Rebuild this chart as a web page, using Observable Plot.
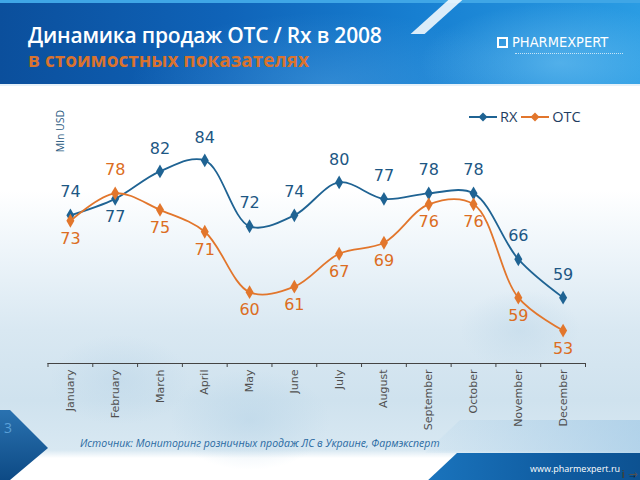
<!DOCTYPE html>
<html>
<head>
<meta charset="utf-8">
<script src="https://cdn.jsdelivr.net/npm/d3@7"></script>
<script src="https://cdn.jsdelivr.net/npm/@observablehq/plot@0.6"></script>
<style>
  html, body { margin: 0; padding: 0; background: #fff; }
  #page { position: relative; width: 640px; height: 480px; overflow: hidden;
    font-family: "DejaVu Sans", sans-serif;
    background:
      radial-gradient(ellipse 60px 40px at 520px 330px, rgba(190,215,232,0.5), rgba(190,215,232,0)),
      radial-gradient(ellipse 80px 50px at 250px 420px, rgba(180,210,230,0.5), rgba(180,210,230,0)),
      radial-gradient(ellipse 70px 45px at 120px 380px, rgba(185,212,231,0.45), rgba(185,212,231,0)),
      linear-gradient(to bottom, #ffffff 0px, #ffffff 190px, #eef5fa 250px, #d9e8f2 330px, #cfe2ee 400px, #d8e8f2 450px, #ffffff 458px, #ffffff 480px);
  }
  #banner { position: absolute; left: 0; top: 0; width: 640px; height: 86px;
    background:
      radial-gradient(ellipse 140px 60px at 560px 60px, rgba(120,200,245,0.55), rgba(120,200,245,0)),
      radial-gradient(ellipse 200px 70px at 330px 80px, rgba(90,170,230,0.4), rgba(90,170,230,0)),
      linear-gradient(to right, #0b4f9c 0%, #0f63b8 35%, #177fd1 65%, #2a9ce3 100%);
    border-top: 3px solid #3fa6e6; box-sizing: border-box; border-bottom: 2px solid #e6f1f9; }
  #stripe { position: absolute; left: 455px; top: -6px; width: 14px; height: 40px; background: rgba(255,255,255,0.85); transform: skewX(-48deg); transform-origin: top left; }
  #title { position: absolute; left: 28px; top: 21px; color: #fff; font-family: "Open Sans", sans-serif; font-weight: 600; font-size: 21px; letter-spacing: -0.2px; white-space: nowrap; }
  #subtitle { position: absolute; left: 28px; top: 47px; color: #d9732e; font-family: "Open Sans", sans-serif; font-weight: 700; font-size: 19px; white-space: nowrap; }
  #logo { position: absolute; left: 497px; top: 34px; color: #fff; font-family: "DejaVu Sans Condensed", "DejaVu Sans", sans-serif; font-size: 14.5px; white-space: nowrap; display: flex; align-items: center; gap: 4px; }
  #logo .ic { width: 11px; height: 11px; border: 2px solid #fff; box-sizing: border-box; }
  #logo .sub { position: absolute; left: 18px; top: 19px; width: 108px; border-top: 1px dotted rgba(255,255,255,0.7); }
  #chart { position: absolute; left: 0; top: 0; }
  #legend { position: absolute; left: 469px; top: 107px; display: flex; align-items: center; font-family: "Open Sans", sans-serif; font-size: 14.5px; color: #1e3c60; white-space: nowrap; }
  #legend .item { display: flex; align-items: center; margin-right: 4px; }
  #legend svg { margin-right: 3px; }
  #ylabel { position: absolute; left: 60px; top: 131px; transform: translate(-50%, -50%) rotate(-90deg); font-family: "Open Sans", sans-serif; font-size: 10.5px; color: #2c5b82; white-space: nowrap; }
  #caption { position: absolute; left: 80px; top: 436px; font-family: "Open Sans", sans-serif; font-style: italic; font-size: 10.5px; color: #2a6aa2; white-space: nowrap; }
  #footer { position: absolute; left: 425px; top: 453px; width: 240px; height: 30px;
    background: linear-gradient(to right, #1a74bd, #0f5a9e 60%, #0c4f8d);
    clip-path: polygon(32px 0, 100% 0, 100% 100%, 0 100%); }
  #footer2 { position: absolute; left: 400px; top: 420px; width: 260px; height: 33px;
    background: linear-gradient(to right, rgba(170,205,230,0), rgba(150,195,228,0.6));
    clip-path: polygon(60px 0, 100% 0, 100% 100%, 25px 100%); }
  #url { position: absolute; left: 530px; top: 462px; color: #fff; font-family: "Open Sans", sans-serif; font-size: 9px; white-space: nowrap; }
  #corner { position: absolute; left: 0; top: 410px; width: 50px; height: 70px;
    background: linear-gradient(to bottom, #2a72b0, #0d4a85);
    clip-path: polygon(0 0, 10px 0, 48px 38px, 10px 70px, 0 70px); }
  #pagenum { position: absolute; left: 4px; top: 418px; color: #5aa0d8; font-family: "Open Sans", sans-serif; font-size: 14px; }
</style>
</head>
<body>
<div id="page">
  <div id="banner"></div>
  <div id="stripe"></div>
  <div id="title">Динамика продаж OTC / Rx в 2008</div>
  <div id="subtitle">в стоимостных показателях</div>
  <div id="logo"><div class="ic"></div><span>PHARMEXPERT</span><div class="sub"></div></div>
  <div id="footer2"></div>
  <div id="footer"></div>
  <div id="url">www.pharmexpert.ru</div>
  <div id="corner"></div>
  <div id="pagenum">3</div>
  <div id="chart"></div>
  <div id="ylabel">Mln USD</div>
  <div id="legend"></div>
  <div id="caption">Источник: Мониторинг розничных продаж ЛС в Украине, Фармэксперт</div>
</div>
<script>
// ---- data ----
const months = ["January","February","March","April","May","June","July","August","September","October","November","December"];
const rxValues = [74, 77, 82, 84, 72, 74, 80, 77, 78, 78, 66, 59];
const otcValues = [73, 78, 75, 71, 60, 61, 67, 69, 76, 76, 59, 53];
const seriesNames = ["RX", "OTC"];
const seriesColors = {RX: "#1f6393", OTC: "#e2762c"};
const labelColors = {RX: "#1d5784", OTC: "#dc6d22"};

// ---- build table ----
const rows = [];
months.forEach((m, i) => {
  const rxHigher = rxValues[i] >= otcValues[i];
  rows.push({i, month: m, series: "RX", value: rxValues[i], above: rxHigher});
  rows.push({i, month: m, series: "OTC", value: otcValues[i], above: !rxHigher});
});

const chart = Plot.plot({
  width: 640,
  height: 480,
  marginTop: 127,
  marginBottom: 117,
  marginLeft: 47.5,
  marginRight: 55,
  style: {background: "transparent", overflow: "visible"},
  x: {domain: [-0.5, 11.5], axis: null},
  y: {domain: [47, 90], axis: null},
  marks: [
    Plot.ruleY([47], {stroke: "#444", strokeWidth: 1}),
    Plot.axisX({ticks: d3.range(-0.5, 12, 1), tickSize: 4, tickFormat: () => "", stroke: "#444"}),
    Plot.axisX({ticks: d3.range(0, 12, 1), tickSize: 0, tickPadding: 6, tickRotate: -90,
      tickFormat: i => months[i], fontSize: 11, fill: "#505050", fontFamily: "DejaVu Sans"}),
    Plot.line(rows, {x: "i", y: "value", z: "series", stroke: d => seriesColors[d.series], strokeWidth: 1.8, curve: "catmull-rom"}),
    Plot.dot(rows, {x: "i", y: "value", symbol: "diamond", r: 4.2, fill: d => seriesColors[d.series], stroke: "none"}),
    Plot.text(rows.filter(d => d.above), {x: "i", y: "value", text: d => String(d.value), dy: -23,
      fill: d => labelColors[d.series], fontSize: 16, fontFamily: "DejaVu Sans"}),
    Plot.text(rows.filter(d => !d.above), {x: "i", y: "value", text: d => String(d.value), dy: 18,
      fill: d => labelColors[d.series], fontSize: 16, fontFamily: "DejaVu Sans"})
  ]
});
document.getElementById("chart").appendChild(chart);

// ---- legend ----
const legend = document.getElementById("legend");
seriesNames.forEach(s => {
  const item = document.createElement("div");
  item.className = "item";
  item.innerHTML = `<svg width="28" height="12"><line x1="0" y1="6" x2="28" y2="6" stroke="${seriesColors[s]}" stroke-width="2"/><path d="M14 1.5 L18.5 6 L14 10.5 L9.5 6 Z" fill="${seriesColors[s]}"/></svg><span>${s}</span>`;
  legend.appendChild(item);
});
</script>
</body>
</html>
